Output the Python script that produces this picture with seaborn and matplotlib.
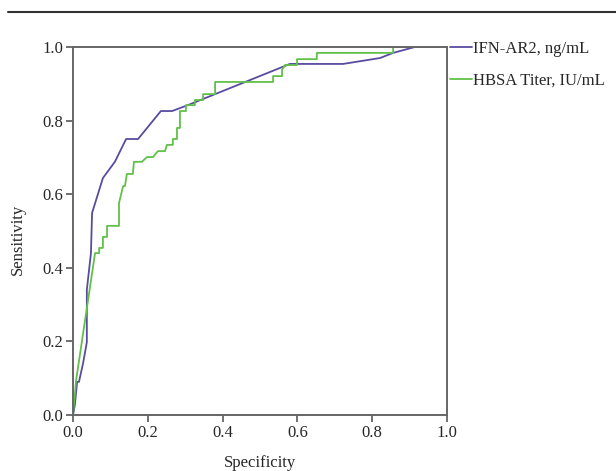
import pandas as pd
import matplotlib.pyplot as plt
import matplotlib.lines as mlines
import seaborn as sns

# === ROC curve points ===
ifn_spec = [0.0, 0.005, 0.011, 0.016, 0.027, 0.037, 0.037, 0.048, 0.051, 0.080,
            0.112, 0.142, 0.174, 0.235, 0.265, 0.307, 0.58, 0.722, 0.821, 0.856,
            0.914, 1.0]
ifn_sens = [0.0, 0.027, 0.09, 0.09, 0.141, 0.198, 0.34, 0.44, 0.549, 0.644,
            0.688, 0.75, 0.75, 0.826, 0.826, 0.842, 0.954, 0.954, 0.970, 0.984,
            1.0, 1.0]

hbsa_spec = [0.0, 0.008, 0.059, 0.070, 0.070, 0.080, 0.080, 0.091, 0.091, 0.123,
             0.123, 0.134, 0.139, 0.144, 0.160, 0.163, 0.184, 0.198, 0.214, 0.227,
             0.246, 0.251, 0.267, 0.267, 0.278, 0.278, 0.286, 0.286, 0.302, 0.302,
             0.326, 0.326, 0.348, 0.348, 0.380, 0.380, 0.535, 0.535, 0.559, 0.559,
             0.567, 0.599, 0.599, 0.652, 0.652, 0.856, 0.856, 1.0]
hbsa_sens = [0.0, 0.092, 0.44, 0.44, 0.454, 0.454, 0.484, 0.484, 0.514, 0.514,
             0.576, 0.622, 0.622, 0.655, 0.655, 0.688, 0.688, 0.701, 0.701, 0.717,
             0.717, 0.734, 0.734, 0.75, 0.75, 0.78, 0.78, 0.826, 0.826, 0.842,
             0.842, 0.856, 0.856, 0.872, 0.872, 0.905, 0.905, 0.921, 0.921, 0.938,
             0.951, 0.951, 0.967, 0.967, 0.984, 0.984, 1.0, 1.0]

labels = ["IFN-AR2, ng/mL", "HBSA Titer, IU/mL"]
colors = ["#574ca0", "#62c04a"]

df = pd.concat([
    pd.DataFrame({"Specificity": ifn_spec, "Sensitivity": ifn_sens, "Marker": labels[0]}),
    pd.DataFrame({"Specificity": hbsa_spec, "Sensitivity": hbsa_sens, "Marker": labels[1]}),
], ignore_index=True)

sns.set_style("white")
plt.rcParams["font.family"] = ["Liberation Serif", "DejaVu Serif"]

fig = plt.figure(figsize=(6.16, 4.71), dpi=100)
ax = fig.add_axes([0.1185, 0.1189, 0.6071, 0.7813])

sns.lineplot(data=df, x="Specificity", y="Sensitivity", hue="Marker",
             palette=colors, sort=False, estimator=None, linewidth=1.3, ax=ax)

ax.set_xlim(0, 1)
ax.set_ylim(0, 1)
ticks = [0.0, 0.2, 0.4, 0.6, 0.8, 1.0]
ax.set_xticks(ticks)
ax.set_yticks(ticks)
ax.set_xticklabels([f"{t:.1f}" for t in ticks])
ax.set_yticklabels([f"{t:.1f}" for t in ticks])
ax.tick_params(axis="both", direction="out", length=5, width=1.3, color="#666666",
               labelsize=12, bottom=True, left=True, pad=2)
for sp in ax.spines.values():
    sp.set_color("#666666")
    sp.set_linewidth(1.4)
ax.set_xlabel("Specificity", fontsize=12, labelpad=10)
ax.set_ylabel("Sensitivity", fontsize=12)
ax.yaxis.set_label_coords(-0.125, 0.476)

ax.legend(title=None, loc="upper left", bbox_to_anchor=(1.0, 1.025), frameon=False,
          fontsize=12, handlelength=1.3, handletextpad=0.05, borderaxespad=0,
          borderpad=0.2, labelspacing=0.95)

# Rule at top of figure
fig.add_artist(mlines.Line2D([8 / 616, 1.0], [1 - 12 / 471, 1 - 12 / 471],
                             color="#333333", linewidth=1.5, transform=fig.transFigure))

fig.savefig("out.png", dpi=100)
